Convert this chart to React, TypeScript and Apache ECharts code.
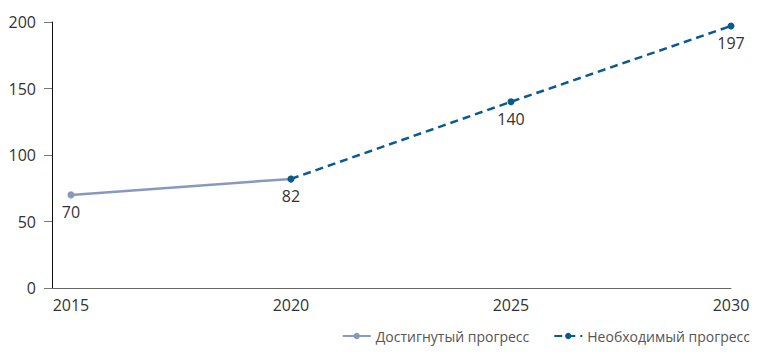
import React, { useEffect, useRef } from "react";
import * as echarts from "echarts";

const years = [2015, 2020, 2025, 2030];
const achievedYears = [2015, 2020];
const achievedValues = [70, 82];
const requiredYears = [2020, 2025, 2030];
const requiredValues = [82, 140, 197];

export default function App() {
  const ref = useRef<HTMLDivElement>(null);
  useEffect(() => {
    if (!ref.current) return;
    const chart = echarts.init(ref.current, null, { renderer: "svg" });
    const font = "'Open Sans', sans-serif";
    chart.setOption({
      animation: false,
      textStyle: { fontFamily: font },
      grid: { left: 52, right: 26, top: 22, bottom: 68 },
      legend: {
        right: 2,
        bottom: 8,
        itemWidth: 28,
        itemHeight: 8,
        itemGap: 24,
        textStyle: { fontSize: 14, color: "#555", fontFamily: font },
        data: ["Достигнутый прогресс", "Необходимый прогресс"],
      },
      xAxis: {
        type: "value",
        min: 2014.57,
        max: 2030,
        splitLine: { show: false },
        axisLine: { show: true, lineStyle: { color: "#666", width: 1 } },
        axisTick: { show: false },
        axisLabel: {
          customValues: years,
          formatter: (v: number) => String(v),
          fontSize: 16,
          color: "#333",
          margin: 9,
          fontFamily: font,
        },
      },
      yAxis: {
        type: "value",
        min: 0,
        max: 200,
        interval: 50,
        splitLine: { show: false },
        axisLine: { show: true, lineStyle: { color: "#111", width: 1 } },
        axisTick: { show: true, length: 8, lineStyle: { color: "#777" } },
        axisLabel: { fontSize: 16, color: "#333", margin: 16, fontFamily: font },
      },
      series: [
        {
          name: "Достигнутый прогресс",
          type: "line",
          data: achievedYears.map((y, i) => [y, achievedValues[i]]),
          symbol: "circle",
          symbolSize: 7,
          itemStyle: { color: "#8898bf" },
          lineStyle: { color: "#8898bf", width: 2.5 },
          label: {
            show: true,
            position: "bottom",
            distance: 6,
            fontSize: 16,
            color: "#333",
            fontFamily: font,
            formatter: (p: any) => (p.dataIndex === 0 ? String(p.value[1]) : ""),
          },
          z: 2,
        },
        {
          name: "Необходимый прогресс",
          type: "line",
          data: requiredYears.map((y, i) => [y, requiredValues[i]]),
          symbol: "circle",
          symbolSize: 7,
          itemStyle: { color: "#0b5a8e" },
          lineStyle: { color: "#0b5a8e", width: 2.5, type: [8, 5] },
          label: {
            show: true,
            position: "bottom",
            distance: 6,
            fontSize: 16,
            color: "#333",
            fontFamily: font,
            formatter: (p: any) => String(p.value[1]),
          },
          z: 3,
        },
      ],
    });
    return () => chart.dispose();
  }, []);
  return <div ref={ref} style={{ width: 757, height: 356, position: "absolute", left: 0, top: 0 }} />;
}
